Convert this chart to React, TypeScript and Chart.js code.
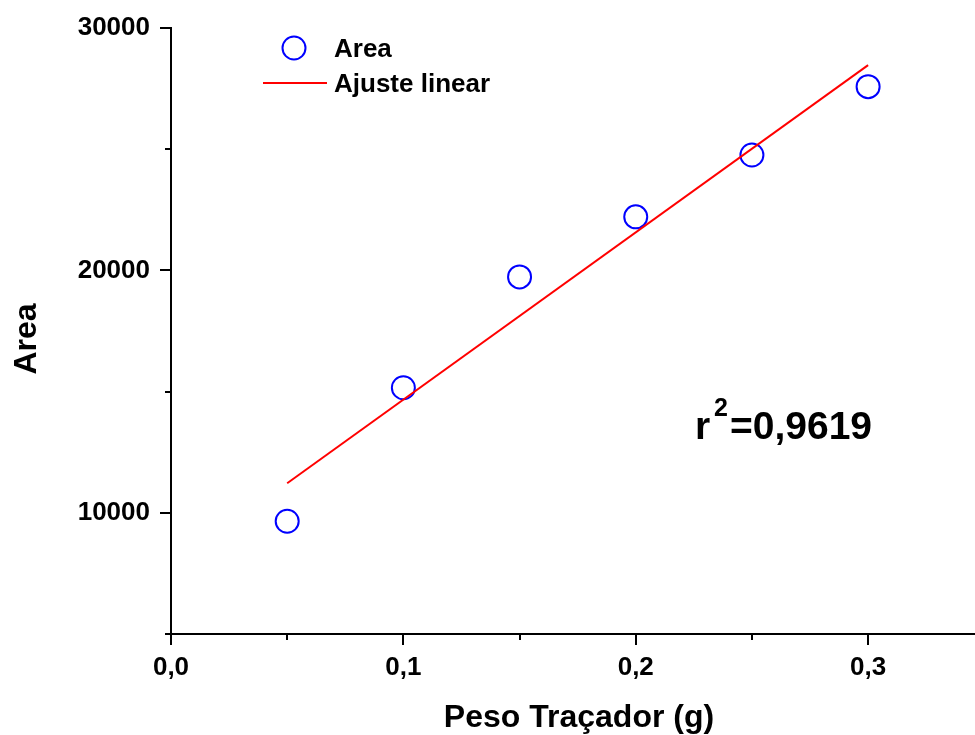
import React, { useEffect, useRef } from 'react';
import { Chart, registerables } from 'chart.js';

Chart.register(...registerables);

// ---- data ----
const pesoTracador = [0.05, 0.1, 0.15, 0.2, 0.25, 0.3];
const areaValues = [9650, 15160, 19730, 22210, 24760, 27580];
const fitX = [0.05, 0.3];
const fitY = [11220, 28470];
const xMajorTicks = [0, 0.1, 0.2, 0.3];
const xMinorTicks = [0.05, 0.15, 0.25];
const yMajorTicks = [10000, 20000, 30000];
const yMinorTicks = [5000, 15000, 25000];
const seriesLabels = ['Area', 'Ajuste linear'];
const r2Base = 'r';
const r2Sup = '2';
const r2Rest = '=0,9619';
const xTitle = 'Peso Traçador (g)';
const yTitle = 'Area';

const FONT = '"Liberation Sans", Arial, Helvetica, sans-serif';

const noPad = (s: any) => {
  s.paddingLeft = 0;
  s.paddingRight = 0;
  s.paddingTop = 0;
  s.paddingBottom = 0;
};

const decorPlugin = {
  id: 'decor',
  afterDraw(chart: any) {
    const ctx = chart.ctx;
    const xs = chart.scales.x;
    const ys = chart.scales.y;
    const area = chart.chartArea;
    ctx.save();
    ctx.strokeStyle = '#000';
    ctx.lineWidth = 2;
    ctx.lineCap = 'butt';
    const drawY = (vals: number[], len: number) => {
      vals.forEach((v) => {
        const p = Math.round(ys.getPixelForValue(v));
        ctx.beginPath();
        ctx.moveTo(area.left - len, p);
        ctx.lineTo(area.left, p);
        ctx.stroke();
      });
    };
    const drawX = (vals: number[], len: number) => {
      vals.forEach((v) => {
        const p = Math.round(xs.getPixelForValue(v));
        ctx.beginPath();
        ctx.moveTo(p, area.bottom);
        ctx.lineTo(p, area.bottom + len);
        ctx.stroke();
      });
    };
    drawY(yMajorTicks, 11);
    drawY(yMinorTicks, 6);
    drawX(xMajorTicks, 11);
    drawX(xMinorTicks, 6);

    ctx.fillStyle = '#000';
    // axis titles
    ctx.font = `bold 32px ${FONT}`;
    ctx.textAlign = 'center';
    ctx.textBaseline = 'alphabetic';
    ctx.fillText(xTitle, 579, 727);
    ctx.save();
    ctx.translate(36, 339);
    ctx.rotate(-Math.PI / 2);
    ctx.fillText(yTitle, 0, 0);
    ctx.restore();

    // legend
    const ds = chart.data.datasets;
    ctx.font = `bold 26px ${FONT}`;
    ctx.textAlign = 'left';
    ctx.beginPath();
    ctx.strokeStyle = ds[0].borderColor;
    ctx.lineWidth = 2;
    ctx.arc(294, 48, 11.5, 0, Math.PI * 2);
    ctx.stroke();
    ctx.fillText(ds[0].label, 334, 57);
    ctx.beginPath();
    ctx.strokeStyle = ds[1].borderColor;
    ctx.moveTo(263, 83);
    ctx.lineTo(327, 83);
    ctx.stroke();
    ctx.fillText(ds[1].label, 334, 92);

    // r^2 annotation
    ctx.font = `bold 39px ${FONT}`;
    ctx.fillText(r2Base, 695, 439);
    ctx.font = `bold 25px ${FONT}`;
    ctx.fillText(r2Sup, 714, 416);
    ctx.font = `bold 39px ${FONT}`;
    ctx.fillText(r2Rest, 730, 439);
    ctx.restore();
  },
};

export default function App() {
  const ref = useRef<HTMLCanvasElement>(null);
  useEffect(() => {
    if (!ref.current) return;
    const chart = new Chart(ref.current, {
      type: 'scatter',
      data: {
        datasets: [
          {
            label: seriesLabels[0],
            data: pesoTracador.map((x, i) => ({ x, y: areaValues[i] })),
            pointStyle: 'circle',
            pointRadius: 11.5,
            pointBorderWidth: 2,
            borderColor: '#0000ff',
            backgroundColor: 'rgba(0,0,0,0)',
            pointBackgroundColor: 'rgba(0,0,0,0)',
            showLine: false,
            order: 1,
          } as any,
          {
            label: seriesLabels[1],
            data: fitX.map((x, i) => ({ x, y: fitY[i] })),
            showLine: true,
            borderColor: '#ff0000',
            borderWidth: 2,
            pointRadius: 0,
            backgroundColor: 'rgba(0,0,0,0)',
            order: 0,
          } as any,
        ],
      },
      options: {
        responsive: false,
        animation: false,
        devicePixelRatio: 1,
        layout: { autoPadding: false, padding: { top: 28, left: 0, right: 0, bottom: 0 } },
        plugins: { legend: { display: false }, tooltip: { enabled: false } },
        scales: {
          x: {
            type: 'linear',
            position: 'bottom',
            min: 0,
            max: 0.346,
            afterBuildTicks: (s: any) => {
              s.ticks = xMajorTicks.map((value) => ({ value }));
            },
            afterFit: (s: any) => {
              s.height = 101;
              noPad(s);
            },
            grid: { display: false },
            border: { display: true, color: '#000', width: 2 },
            ticks: {
              color: '#000',
              padding: 10,
              maxRotation: 0,
              autoSkip: false,
              font: { family: FONT, size: 26, weight: 'bold' },
              callback: (v: any) => Number(v).toFixed(1).replace('.', ','),
            },
            title: { display: false },
          },
          y: {
            type: 'linear',
            position: 'left',
            min: 5000,
            max: 30000,
            afterBuildTicks: (s: any) => {
              s.ticks = yMajorTicks.map((value) => ({ value }));
            },
            afterFit: (s: any) => {
              s.width = 171;
              noPad(s);
            },
            grid: { display: false },
            border: { display: true, color: '#000', width: 2 },
            ticks: {
              color: '#000',
              padding: 13,
              autoSkip: false,
              font: { family: FONT, size: 26, weight: 'bold' },
              callback: (v: any) => String(v),
            },
            title: { display: false },
          },
        },
      } as any,
      plugins: [decorPlugin],
    });
    return () => chart.destroy();
  }, []);
  return (
    <div style={{ position: 'absolute', left: 0, top: 0, width: 975, height: 735, background: '#fff' }}>
      <canvas ref={ref} width={975} height={735} style={{ display: 'block' }} />
    </div>
  );
}
